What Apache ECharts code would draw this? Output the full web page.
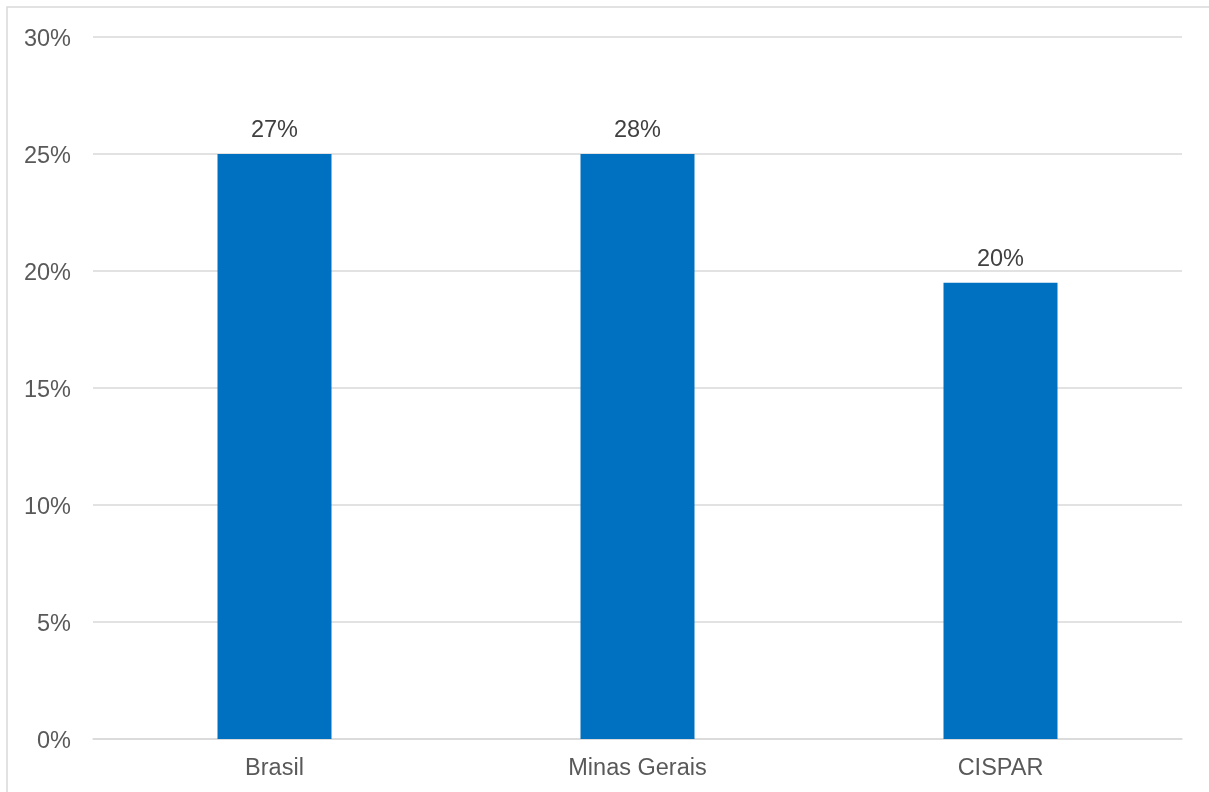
<!DOCTYPE html>
<html>
<head>
<meta charset="utf-8">
<script src="https://cdn.jsdelivr.net/npm/echarts@6/dist/echarts.min.js"></script>
<style>html,body{margin:0;padding:0;background:#fff;}#c{width:1209px;height:792px;}</style>
</head>
<body>
<div id="c"></div>
<script>
const categories = ['Brasil', 'Minas Gerais', 'CISPAR'];
const barValues = [25, 25, 19.5];
const barLabels = ['27%', '28%', '20%'];
const yTicks = [0, 5, 10, 15, 20, 25, 30];

const chart = echarts.init(document.getElementById('c'), null, {renderer: 'canvas'});
const font = '"Liberation Sans", Arial, sans-serif';
chart.setOption({
  animation: false,
  backgroundColor: '#fff',
  graphic: [{
    type: 'rect', silent: true,
    shape: {x: 7, y: 7, width: 1230, height: 820},
    style: {fill: 'none', stroke: '#D9D9D9', lineWidth: 1.5}
  }],
  grid: {left: 93, right: 27, top: 37, bottom: 53, containLabel: false},
  xAxis: {
    type: 'category', data: categories,
    axisLine: {show: true, lineStyle: {color: '#D9D9D9', width: 1.5}},
    axisTick: {show: false},
    axisLabel: {color: '#595959', fontSize: 23.5, fontFamily: font, margin: 18}
  },
  yAxis: {
    type: 'value', min: yTicks[0], max: yTicks[yTicks.length - 1], interval: 5,
    axisLine: {show: false}, axisTick: {show: false},
    splitLine: {lineStyle: {color: '#D9D9D9', width: 1.5}},
    axisLabel: {
      color: '#595959', fontSize: 23.5, fontFamily: font, margin: 22,
      formatter: '{v|{value}%}',
      rich: {v: {color: '#595959', fontSize: 23.5, fontFamily: font, padding: [5, 0, 0, 0]}}
    }
  },
  series: [{
    type: 'bar', data: barValues, barWidth: 114,
    itemStyle: {color: '#0070C0'},
    label: {
      show: true, position: 'top', distance: 11,
      color: '#404040', fontSize: 23.5, fontFamily: font,
      formatter: p => barLabels[p.dataIndex]
    }
  }]
});
</script>
</body>
</html>
